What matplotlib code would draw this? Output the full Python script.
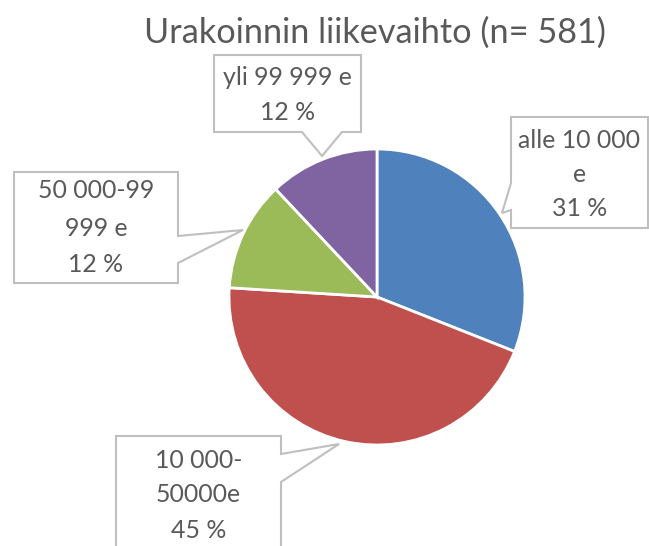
import matplotlib.pyplot as plt
from matplotlib.patches import Polygon

# data
labels = ["alle 10 000\ne", "10 000-\n50000e", "50 000-99\n999 e", "yli 99 999 e"]
shares = [31, 45, 12, 12]
colors = ["#4F81BD", "#C0504D", "#9BBB59", "#8064A2"]
title = "Urakoinnin liikevaihto (n= 581)"

W, H = 649, 546
fig = plt.figure(figsize=(W / 100, H / 100), dpi=100)
plt.rcParams['font.family'] = ['Lato', 'DejaVu Sans']
txt_col = "#595959"

# pie: centre (377, 297) px, radius 148 px
cx, cy, r = 377, 297, 148
pax = fig.add_axes([(cx - r) / W, (H - cy - r) / H, 2 * r / W, 2 * r / H])
pax.pie(shares, colors=colors, startangle=90, counterclock=False,
        wedgeprops=dict(edgecolor="white", linewidth=2))
pax.set_xlim(-1, 1)
pax.set_ylim(-1, 1)
pax.set_aspect("equal")
pax.axis("off")

# overlay in pixel coords for title and callouts
ov = fig.add_axes([0, 0, 1, 1], facecolor="none")
ov.set_xlim(0, W)
ov.set_ylim(H, 0)
ov.axis("off")

t = ov.text(375, 43, title, ha="center", va="baseline", fontsize=20, color=txt_col)
fig.canvas.draw()
rend = fig.canvas.get_renderer()
w = t.get_window_extent(rend).width
t.set_fontsize(20 * 464 / w)

# callout outlines (x, y pixels)
boxes = [
    [(511, 117), (648, 117), (648, 228), (511, 228), (511, 210), (502, 213), (511, 183)],
    [(116, 436), (281, 436), (281, 454), (339, 444), (281, 482), (281, 560), (116, 560)],
    [(14, 172), (178, 172), (178, 236), (243, 230), (178, 263), (178, 283), (14, 283)],
    [(214, 55), (361, 55), (361, 132), (342, 132), (322, 156), (302, 132), (214, 132)],
]
centres = [(579.5, 175), (198.5, 495), (96, 228), (287.5, 95)]
spacing = [34, 35, 37, 35]

for pts in boxes:
    ov.add_patch(Polygon(pts, closed=True, facecolor="white",
                         edgecolor="#BFBFBF", linewidth=1.5, zorder=3))

probe = ov.text(0, 0, "yli 99 999 e", fontsize=14)
pw = probe.get_window_extent(rend).width
lab_fs = 14 * 129 / pw
probe.remove()

for lab, s, (x, y), sp in zip(labels, shares, centres, spacing):
    lines = lab.split("\n") + [f"{s} %"]
    n = len(lines)
    for i, line in enumerate(lines):
        ov.text(x, y + (i - (n - 1) / 2) * sp, line, ha="center", va="center",
                fontsize=lab_fs, color=txt_col, zorder=4)

plt.savefig("out.png", dpi=100)
